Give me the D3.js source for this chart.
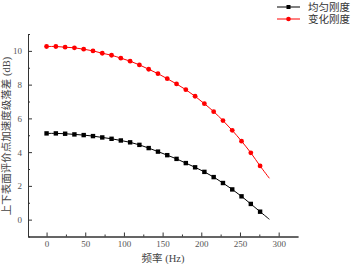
<!DOCTYPE html>
<html>
<head>
<meta charset="utf-8">
<script src="https://cdn.jsdelivr.net/npm/d3@7/dist/d3.min.js"></script>
<style>
html,body{margin:0;padding:0;background:#fff;}
svg{display:block;}
text{font-family:"Liberation Serif","DejaVu Serif","Noto Sans CJK SC",serif;}
.cjk{font-family:"Liberation Serif","Noto Sans CJK SC",serif;}
</style>
</head>
<body>
<svg id="chart" width="356" height="264"></svg>
<script>
const freqs = [0,12,24,36,48,60,72,84,96,108,120,132,144,156,168,180,192,204,216,228,240,252,264,276,288];
const uniform = [5.11,5.11,5.09,5.05,5.01,4.95,4.87,4.79,4.69,4.58,4.43,4.24,4.03,3.82,3.60,3.35,3.10,2.83,2.52,2.17,1.79,1.38,0.93,0.47,0.02];
const varying = [10.26,10.26,10.22,10.18,10.10,10.00,9.86,9.74,9.57,9.39,9.17,8.91,8.65,8.35,8.04,7.70,7.31,6.87,6.40,5.87,5.29,4.65,3.96,3.18,2.45];
const seriesNames = ["均匀刚度","变化刚度"];
const seriesColors = ["#000000","#ff0000"];
const xTicks = [0,50,100,150,200,250,300];
const yTicks = [0,2,4,6,8,10];
const xLabel = "频率 (Hz)";
const yLabel = "上下表面评价点加速度级落差 (dB)";

const svg = d3.select("#chart");
const x = d3.scaleLinear().domain([-24,325]).range([28,298]);
const y = d3.scaleLinear().domain([-1,11]).range([236.5,34]);
const axisColor = "#333";
const labelColor = "#555";

const gx = svg.append("g").attr("transform",`translate(0,${y.range()[0]})`)
  .call(d3.axisBottom(x).tickValues(xTicks).tickSizeInner(-4).tickSizeOuter(0).tickPadding(4).tickFormat(d3.format("d")));
const gxm = svg.append("g").attr("transform",`translate(0,${y.range()[0]})`)
  .call(d3.axisBottom(x).tickValues([25,75,125,175,225,275]).tickSizeInner(-2).tickSizeOuter(0).tickFormat(""));
const gy = svg.append("g").attr("transform",`translate(${x.range()[0]},0)`)
  .call(d3.axisLeft(y).tickValues(yTicks).tickSizeInner(-4).tickSizeOuter(0).tickPadding(6).tickFormat(d3.format("d")));
const gym = svg.append("g").attr("transform",`translate(${x.range()[0]},0)`)
  .call(d3.axisLeft(y).tickValues([-1,1,3,5,7,9,11]).tickSizeInner(-2).tickSizeOuter(0).tickFormat(""));
[gx,gxm,gy,gym].forEach(g=>{
  g.selectAll("path.domain").attr("stroke",axisColor).attr("stroke-width",1);
  g.selectAll(".tick line").attr("stroke",axisColor).attr("stroke-width",1);
  g.selectAll(".tick text").attr("fill",labelColor).style("font-size","9px")
   .style("font-family",'"Liberation Serif","DejaVu Serif",serif');
});

svg.append("text").attr("class","cjk").attr("x",163).attr("y",262).attr("text-anchor","middle")
  .attr("fill","#444").style("font-size","10.5px").text(xLabel);
svg.append("text").attr("class","cjk").attr("transform","translate(10,136) rotate(-90)").attr("text-anchor","middle")
  .attr("fill","#444").style("font-size","10.5px").text(yLabel);

const series = [uniform, varying];
const line = d3.line().x((d,i)=>x(freqs[i])).y(d=>y(d)).curve(d3.curveCatmullRom);
series.forEach((vals,si)=>{
  const col = seriesColors[si];
  svg.append("path").datum(vals).attr("d",line).attr("fill","none").attr("stroke",col).attr("stroke-width",1);
  const pts = vals.map((v,i)=>({f:freqs[i],v})).filter((d,i)=>i<vals.length-1);
  if(si===0){
    svg.selectAll(null).data(pts).enter().append("rect")
      .attr("x",d=>x(d.f)-2.2).attr("y",d=>y(d.v)-2.2).attr("width",4.4).attr("height",4.4).attr("fill",col);
  } else {
    svg.selectAll(null).data(pts).enter().append("circle")
      .attr("cx",d=>x(d.f)).attr("cy",d=>y(d.v)).attr("r",2.4).attr("fill",col);
  }
});

const legY = [7,19];
seriesNames.forEach((name,si)=>{
  const col = seriesColors[si];
  svg.append("line").attr("x1",277).attr("x2",300).attr("y1",legY[si]).attr("y2",legY[si]).attr("stroke",col).attr("stroke-width",1);
  if(si===0){
    svg.append("rect").attr("x",286.5).attr("y",legY[si]-2).attr("width",4).attr("height",4).attr("fill",col);
  } else {
    svg.append("circle").attr("cx",288.5).attr("cy",legY[si]).attr("r",2.3).attr("fill",col);
  }
  svg.append("text").attr("class","cjk").attr("x",308).attr("y",legY[si]+4).attr("fill","#333")
    .style("font-size","10.5px").text(name);
});
</script>
</body>
</html>
